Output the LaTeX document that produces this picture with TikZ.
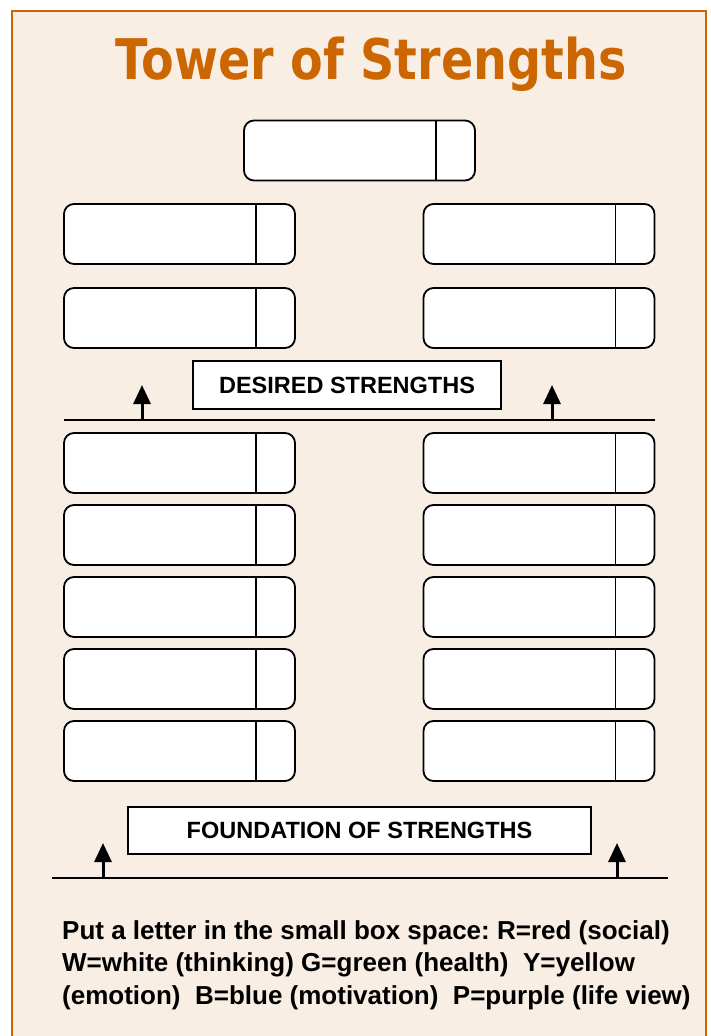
\documentclass[tikz,border=0pt]{standalone}
\usepackage{fontspec}
\setmainfont{Liberation Sans}
\newfontfamily\titlefont{DejaVu Sans}
\usetikzlibrary{positioning,arrows.meta}

\definecolor{pagefill}{HTML}{F9EEE4}
\definecolor{rust}{HTML}{CC6600}
\frenchspacing

\begin{document}
\begin{tikzpicture}[
                        x=1pt, y=-1pt,
                        >={Triangle[width=17pt,length=19pt]},
                        node distance=24pt
                    ]
                    \tikzstyle{strength}=[draw=black,line width=1.8pt,fill=white,rounded corners=10pt,minimum width=231pt,minimum height=60pt,inner sep=0pt,outer sep=0pt]
                    \tikzstyle{banner}=[draw=black,line width=1.5pt,fill=white,inner sep=0pt,font=\fontsize{23.5}{27}\selectfont\bfseries]
                    \tikzstyle{rise}=[->,line width=3pt]
                    \tikzstyle{ground}=[line width=2pt]

                    \useasboundingbox (0,0) rectangle (710,1036);
                    \fill[white] (0,0) rectangle (710,1036);
                    \fill[pagefill] (12,11) rectangle (706,1036);
                    \draw[rust,line width=2.5pt] (12,1036) -- (12,11) -- (706,11) -- (706,1036);

                    \node[text=rust,anchor=base,font=\titlefont\bfseries\fontsize{56}{60}\selectfont] (title) at (371,79) {\scalebox{0.85}[1]{Tower of Strengths}};

                    \node[strength] (T) at (359.5,150.5) {};

                    \foreach \side/\x in {L/179.5, R/539} {
                        \node[strength]                     (\side1) at (\x,234) {};
                        \node[strength, below=24pt of \side1] (\side2) {};
                        \node[strength]                     (\side3) at (\x,463) {};
                        \foreach \i [count=\j from 3] in {4,...,7}
                            \node[strength, below=12pt of \side\j] (\side\i) {};
                    }

                    \foreach \b in {T,L1,L2,L3,L4,L5,L6,L7,R1,R2,R3,R4,R5,R6,R7}
                        \draw[line width=1.3pt] ([xshift=-39pt]\b.north east) -- ([xshift=-39pt]\b.south east);

                    \node[banner,minimum width=308pt,minimum height=48pt] (desired) at (347,385) {DESIRED STRENGTHS};
                    \node[banner,minimum width=463pt,minimum height=47pt] (foundation) at (359.5,830.5) {FOUNDATION OF STRENGTHS};

                    % line under the desired strengths
                    \coordinate (dw) at (64,420);
                    \coordinate (de) at (655,420);
                    \coordinate (dl) at (142,420);
                    \coordinate (dlt) at (142,385);
                    \coordinate (dr) at (552,420);
                    \coordinate (drt) at (552,385);
                    \draw[ground] (dw) -- (de);
                    \draw[rise] (dl) -- (dlt);
                    \draw[rise] (dr) -- (drt);

                    % line under the foundation
                    \coordinate (fw) at (52,878);
                    \coordinate (fe) at (668,878);
                    \coordinate (fl) at (103,878);
                    \coordinate (flt) at (103,843);
                    \coordinate (fr) at (617,878);
                    \coordinate (frt) at (617,843);
                    \draw[ground] (fw) -- (fe);
                    \draw[rise] (fl) -- (flt);
                    \draw[rise] (fr) -- (frt);

                    \node[anchor=north west,align=left,inner sep=0pt,font=\fontsize{26}{32.5}\selectfont\bfseries] (key) at (62,920)
                        {Put a letter in the small box space: R=red (social)\\
                         W=white (thinking) G=green (health)\ \ Y=yellow\\
                         (emotion)\ \ B=blue (motivation)\ \ P=purple (life view)};
                \end{tikzpicture}
\end{document}
